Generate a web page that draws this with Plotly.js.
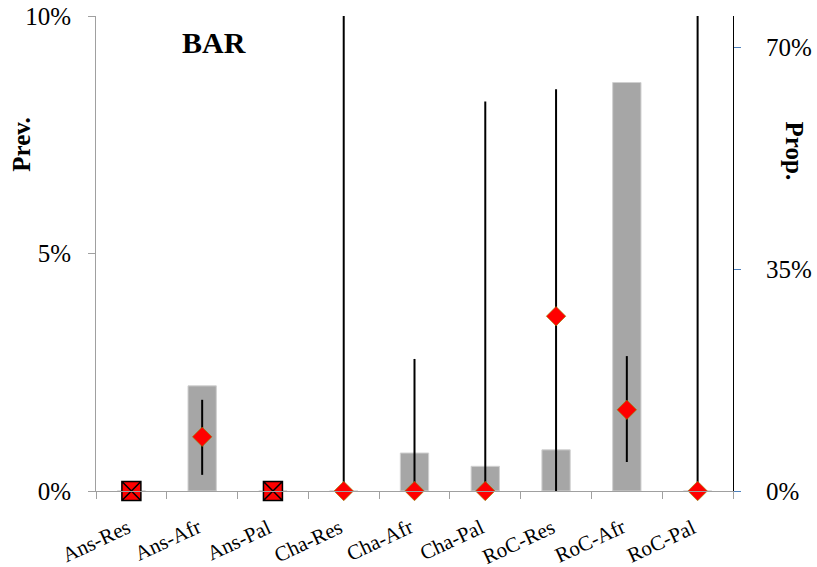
<!DOCTYPE html>
<html>
<head>
<meta charset="utf-8">
<script src="https://cdn.plot.ly/plotly-3.0.1.min.js"></script>
<style>html,body{margin:0;padding:0;background:#fff;}#chart{width:817px;height:567px;}</style>
</head>
<body>
<div id="chart"></div>
<script>
const categories = ["Ans-Res","Ans-Afr","Ans-Pal","Cha-Res","Cha-Afr","Cha-Pal","RoC-Res","RoC-Afr","RoC-Pal"];
// Prop. (right axis, %)
const propValues = [0, 16.6, 0, 0, 6.0, 3.9, 6.5, 64.5, 0];
// Prev. (left axis, %) point estimates
const prevValues = [0, 1.14, 0, 0, 0, 0, 3.68, 1.71, 0];
// Prev. confidence limits (%)
const prevUpper = [0, 1.92, 0, 10, 2.78, 8.2, 8.46, 2.84, 10];
const prevLower = [0, 0.34, 0, 0, 0, 0, 0, 0.61, 0];
// categories with no data (marked with a crossed square)
const noData = ["Ans-Res","Ans-Pal"];

const estCats = categories.filter(c => !noData.includes(c));
const idx = estCats.map(c => categories.indexOf(c));

const font = '"Liberation Serif", "Times New Roman", Times, serif';

const traces = [
  {
    type: "bar", x: categories, y: propValues, yaxis: "y",
    marker: {color: "#A6A6A6", line: {color: "#D0D0D0", width: 1}},
    width: 0.4, hoverinfo: "skip", showlegend: false
  },
  {
    type: "scatter", mode: "markers", x: estCats, yaxis: "y2",
    y: idx.map(i => prevValues[i]),
    error_y: {type: "data", symmetric: false,
      array: idx.map(i => prevUpper[i] - prevValues[i]),
      arrayminus: idx.map(i => prevValues[i] - prevLower[i]),
      color: "#000", thickness: 2, width: 0},
    marker: {symbol: "diamond", size: 15, color: "#FF0000", line: {color: "#8C8C00", width: 0.6}},
    cliponaxis: false, showlegend: false
  },
  {
    type: "scatter", mode: "markers", x: noData, yaxis: "y2",
    y: noData.map(c => prevValues[categories.indexOf(c)]),
    marker: {symbol: "square-x", size: 19, color: "#FF0000", line: {color: "#000", width: 1.5}},
    cliponaxis: false, showlegend: false
  }
];

// category labels drawn as rotated annotations below the axis
const catLabels = categories.map(c => ({
  text: c, xref: "x", yref: "paper", x: c, y: 0, yshift: -21, xshift: 5,
  xanchor: "right", yanchor: "top", textangle: -25, showarrow: false,
  font: {family: font, size: 21}
}));

const layout = {
  width: 817, height: 567,
  margin: {l: 96, r: 84, t: 16, b: 76},
  paper_bgcolor: "#fff", plot_bgcolor: "#fff",
  font: {family: font, color: "#000", size: 20},
  xaxis: {
    type: "category", range: [-0.5, 8.5],
    showline: true, linecolor: "#A0A0A0", linewidth: 1,
    ticks: "outside", tickson: "boundaries", ticklen: 7, tickcolor: "#A0A0A0",
    showticklabels: false, showgrid: false, zeroline: false
  },
  yaxis: {
    side: "right", range: [0, 75],
    tickvals: [0, 35, 70], ticktext: ["0%", "35%", "70%"],
    showline: true, linecolor: "#000", linewidth: 1,
    ticks: "outside", ticklen: 7, tickcolor: "#4F81BD",
    ticklabelstandoff: 20,
    tickfont: {family: font, size: 25}, showgrid: false, zeroline: false
  },
  yaxis2: {
    overlaying: "y", side: "left", range: [0, 10],
    tickvals: [0, 5, 10], ticktext: ["0%", "5%", "10%"],
    showline: true, linecolor: "#A0A0A0", linewidth: 1,
    ticks: "outside", ticklen: 7, tickcolor: "#A0A0A0",
    ticklabelstandoff: 12,
    tickfont: {family: font, size: 25}, showgrid: false, zeroline: false
  },
  annotations: [
    {text: "<b>BAR</b>", xref: "paper", yref: "paper", x: 0.185, y: 0.945,
     xanchor: "center", yanchor: "middle", showarrow: false, font: {family: font, size: 30}},
    {text: "<b>Prev.</b>", xref: "paper", yref: "paper", x: -0.117, y: 0.73,
     xanchor: "center", yanchor: "middle", textangle: -90, showarrow: false, font: {family: font, size: 25}},
    {text: "<b>Prop.</b>", xref: "paper", yref: "paper", x: 1.097, y: 0.715,
     xanchor: "center", yanchor: "middle", textangle: 90, showarrow: false, font: {family: font, size: 25}}
  ].concat(catLabels)
};

Plotly.newPlot("chart", traces, layout, {displayModeBar: false, staticPlot: true});
</script>
</body>
</html>
